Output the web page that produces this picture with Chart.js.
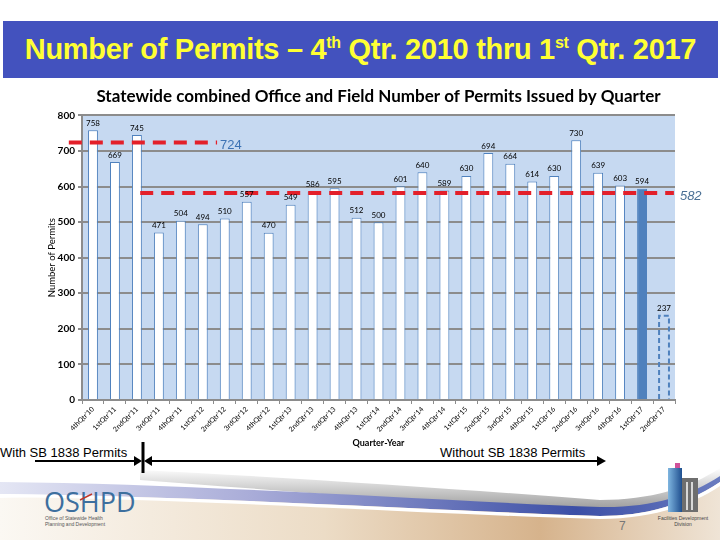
<!DOCTYPE html>
<html>
<head>
<meta charset="utf-8">
<script src="https://cdn.jsdelivr.net/npm/chart.js@4.4.0/dist/chart.umd.min.js"></script>
<style>
  html, body { margin: 0; padding: 0; }
  body { width: 720px; height: 540px; position: relative; overflow: hidden; background: #fff; font-family: 'Liberation Sans', Arial, sans-serif; }
  #deco { position: absolute; left: 0; top: 0; }
  #banner { position: absolute; left: 3px; top: 21px; width: 715px; height: 57px; background: #4352be; color: #ffff33;
    font-weight: bold; font-size: 29px; text-align: center; line-height: 57px; letter-spacing: -0.3px; }
  #banner sup { font-size: 16px; vertical-align: 11px; line-height: 0; }
  #chartBox { position: absolute; left: 0; top: 82px; width: 720px; height: 370px; }
</style>
</head>
<body>
<svg id="deco" width="720" height="540">
  <defs>
    <linearGradient id="band" x1="0" x2="1" y1="0" y2="0">
      <stop offset="0" stop-color="#e4e6f4"/>
      <stop offset="0.35" stop-color="#a9acd8"/>
      <stop offset="0.8" stop-color="#3c4fa6"/>
      <stop offset="1" stop-color="#6a7cc0"/>
    </linearGradient>
    <linearGradient id="sand" x1="0" x2="1" y1="0" y2="0">
      <stop offset="0" stop-color="#fbf8f3"/>
      <stop offset="0.45" stop-color="#ecdcc6"/>
      <stop offset="0.75" stop-color="#d6b38c"/>
      <stop offset="1" stop-color="#efe4d6"/>
    </linearGradient>
    <linearGradient id="shade" x1="0" x2="0" y1="0" y2="1">
      <stop offset="0" stop-color="#ffffff"/>
      <stop offset="1" stop-color="#9a9a9a"/>
    </linearGradient>
    <linearGradient id="tower" x1="0" x2="1" y1="0" y2="0">
      <stop offset="0" stop-color="#7fb6e0"/>
      <stop offset="1" stop-color="#1f4f8f"/>
    </linearGradient>
  </defs>
  <path d="M140,470 C300,478 470,490 600,500 C650,500 690,488 720,468 L720,476 C690,498 650,510 600,510 C450,505 300,492 140,480 Z" fill="url(#shade)"/>
  <path d="M0,498 C200,492 420,505 600,512 C650,512 690,500 720,480 L720,540 L0,540 Z" fill="url(#sand)"/>
  <path d="M0,482 C200,484 420,500 600,507 C650,508 690,496 720,476 L720,482 C690,502 650,516 600,516 C420,510 200,496 0,494 Z" fill="url(#band)"/>
  <path d="M0,494 C200,496 420,510 600,516 C650,516 690,502 720,482 L720,486 C690,506 650,519 600,519 C420,514 200,499 0,497 Z" fill="#ffffff"/>

  <text x="0" y="457" font-size="13" font-family="Liberation Sans, Arial" fill="#000">With SB 1838 Permits</text>
  <text x="440" y="457" font-size="13" font-family="Liberation Sans, Arial" fill="#000">Without SB 1838 Permits</text>
  <line x1="35" y1="461" x2="136" y2="461" stroke="#000" stroke-width="2"/>
  <polygon points="142,461 134,456 134,466" fill="#000"/>
  <line x1="143" y1="442" x2="143" y2="473" stroke="#000" stroke-width="3"/>
  <polygon points="144,461 152,456 152,466" fill="#000"/>
  <line x1="150" y1="461" x2="598" y2="461" stroke="#000" stroke-width="2"/>
  <polygon points="606,461 597,456 597,466" fill="#000"/>

  <text x="44" y="512" font-size="27" font-family="Open Sans, Liberation Sans" fill="#3d6f9e">OSHPD</text>
  <line x1="80" y1="500" x2="92" y2="494" stroke="#c0392b" stroke-width="1.5"/>
  <text x="45" y="520" font-size="5" font-family="Liberation Sans" fill="#555">Office of Statewide Health</text>
  <text x="45" y="526" font-size="5" font-family="Liberation Sans" fill="#555">Planning and Development</text>

  <rect x="668" y="468" width="14" height="44" fill="url(#tower)"/>
  <rect x="682" y="478" width="16" height="34" fill="#6e6e6e"/>
  <rect x="686" y="482" width="2" height="28" fill="#d8d8d8"/>
  <rect x="691" y="482" width="2" height="28" fill="#d8d8d8"/>
  <rect x="675" y="463" width="5" height="5" fill="#d0529a"/>
  <text x="683" y="520" font-size="5" text-anchor="middle" font-family="Liberation Sans" fill="#444">Facilities Development</text>
  <text x="683" y="526" font-size="5" text-anchor="middle" font-family="Liberation Sans" fill="#444">Division</text>
  <text x="619" y="530" font-size="12" font-family="Liberation Sans" fill="#777">7</text>
</svg>

<div id="banner">Number of Permits – 4<sup>th</sup> Qtr. 2010 thru 1<sup>st</sup> Qtr. 2017</div>
<div id="chartBox"><canvas id="permitsChart" width="720" height="370"></canvas></div>

<script>
const quarters = [
  "4thQtr'10", "1stQtr'11", "2ndQtr'11", "3rdQtr'11", "4thQtr'11", "1stQtr'12", "2ndQtr'12",
  "3rdQtr'12", "4thQtr'12", "1stQtr'13", "2ndQtr'13", "3rdQtr'13", "4thQtr'13", "1stQtr'14",
  "2ndQtr'14", "3rdQtr'14", "4thQtr'14", "1stQtr'15", "2ndQtr'15", "3rdQtr'15", "4thQtr'15",
  "1stQtr'16", "2ndQtr'16", "3rdQtr'16", "4thQtr'16", "1stQtr'17", "2ndQtr'17",
]
const permits = [
  758, 669, 745, 471, 504, 494, 510, 557, 470, 549, 586, 595, 512, 500,
  601, 640, 589, 630, 694, 664, 614, 630, 730, 639, 603, 594, 237,
]
// averages: with SB 1838 (first three quarters) and without
const averageValues = [724, 582]
const averageLabels = ['724', '582']

const blue = '#4f81bd'
const gridGray = '#8c8c8c'
const currentIdx = quarters.length - 2
const partialIdx = quarters.length - 1

const plotBackground = {
  id: 'plotBackground',
  beforeDraw(chart) {
    const { ctx, chartArea } = chart
    ctx.save()
    ctx.fillStyle = '#c6d9f1'
    ctx.fillRect(chartArea.left, chartArea.top, chartArea.right - chartArea.left, chartArea.bottom - chartArea.top)
    ctx.restore()
  },
}

const partialBar = {
  id: 'partialBar',
  afterDatasetsDraw(chart) {
    const bar = chart.getDatasetMeta(0).data[partialIdx]
    const { ctx } = chart
    ctx.save()
    ctx.strokeStyle = blue
    ctx.lineWidth = 2
    ctx.setLineDash([5, 3])
    ctx.beginPath()
    ctx.moveTo(bar.x - bar.width / 2, bar.base)
    ctx.lineTo(bar.x - bar.width / 2, bar.y)
    ctx.lineTo(bar.x + bar.width / 2, bar.y)
    ctx.lineTo(bar.x + bar.width / 2, bar.base)
    ctx.stroke()
    ctx.restore()
  },
}

// dashed red average lines, extents given in category units
const lineSpans = [[-1.1, 5.65], [2.15, 26.45]]
const averageLines = {
  id: 'averageLines',
  afterDatasetsDraw(chart) {
    const { ctx, scales } = chart
    ctx.save()
    averageValues.forEach((v, i) => {
      const y = scales.y.getPixelForValue(v)
      const x1 = scales.x.getPixelForValue(lineSpans[i][0])
      const x2 = scales.x.getPixelForValue(lineSpans[i][1])
      ctx.strokeStyle = '#e3202a'
      ctx.lineWidth = 4
      ctx.setLineDash([13, 8])
      ctx.beginPath()
      ctx.moveTo(x1, y)
      ctx.lineTo(x2, y)
      ctx.stroke()
      ctx.font = (i === 0 ? '' : 'italic ') + '13px "Liberation Sans", Arial'
      ctx.fillStyle = i === 0 ? '#3d72b4' : '#4a6f94'
      ctx.textBaseline = 'middle'
      ctx.textAlign = 'left'
      ctx.fillText(averageLabels[i], x2 + (i === 0 ? 3 : 6), y + 3)
    })
    ctx.restore()
  },
}

const barLabels = {
  id: 'barLabels',
  afterDatasetsDraw(chart) {
    const { ctx } = chart
    ctx.save()
    ctx.font = '8px Lato'
    ctx.fillStyle = '#000'
    ctx.textAlign = 'center'
    ctx.textBaseline = 'bottom'
    chart.getDatasetMeta(0).data.forEach((bar, i) => {
      ctx.fillText(permits[i], bar.x, bar.y - 3)
    })
    ctx.restore()
  },
}

new Chart(document.getElementById('permitsChart'), {
  type: 'bar',
  data: {
    labels: quarters,
    datasets: [{
      label: 'Permits',
      data: permits,
      backgroundColor: permits.map((v, i) => i === currentIdx ? blue : (i === partialIdx ? 'rgba(0,0,0,0)' : '#ffffff')),
      borderColor: blue,
      borderWidth: permits.map((v, i) => i === partialIdx ? 0 : 1),
      categoryPercentage: 1,
      barPercentage: 0.45,
    }],
  },
  options: {
    responsive: false,
    animation: false,
    devicePixelRatio: 1,
    layout: { padding: { left: 42, right: 45, top: 0, bottom: 0 } },
    plugins: {
      legend: { display: false },
      tooltip: { enabled: false },
      title: {
        display: true,
        fullSize: false,
        text: 'Statewide combined Office and Field Number of Permits Issued by Quarter',
        color: '#000',
        font: { family: 'Lato', size: 17, weight: 'bold' },
        padding: { top: 4, bottom: 9 },
      },
    },
    scales: {
      x: {
        grid: { display: true, drawOnChartArea: false, tickLength: 4, color: gridGray, lineWidth: 1 },
        border: { color: gridGray, width: 2 },
        ticks: { autoSkip: false, maxRotation: 45, minRotation: 45, color: '#000', padding: 1, font: { family: 'Lato', size: 7 } },
        title: { display: true, text: 'Quarter-Year', color: '#000', font: { family: 'Lato', size: 9, weight: 'bold' }, padding: 4 },
        afterFit(scale) { scale.height = 52 },
      },
      y: {
        min: 0,
        max: 800,
        ticks: { stepSize: 100, color: '#000', padding: 3, font: { family: 'Lato', size: 10, weight: 'bold' } },
        grid: { color: gridGray, lineWidth: 2, tickLength: 4 },
        border: { color: gridGray, width: 2 },
        title: { display: true, text: 'Number of Permits', color: '#000', font: { family: 'Lato', size: 9.5 }, padding: 4 },
        afterFit(scale) { scale.width = 40 },
      },
    },
  },
  plugins: [plotBackground, partialBar, averageLines, barLabels],
})
</script>
</body>
</html>
